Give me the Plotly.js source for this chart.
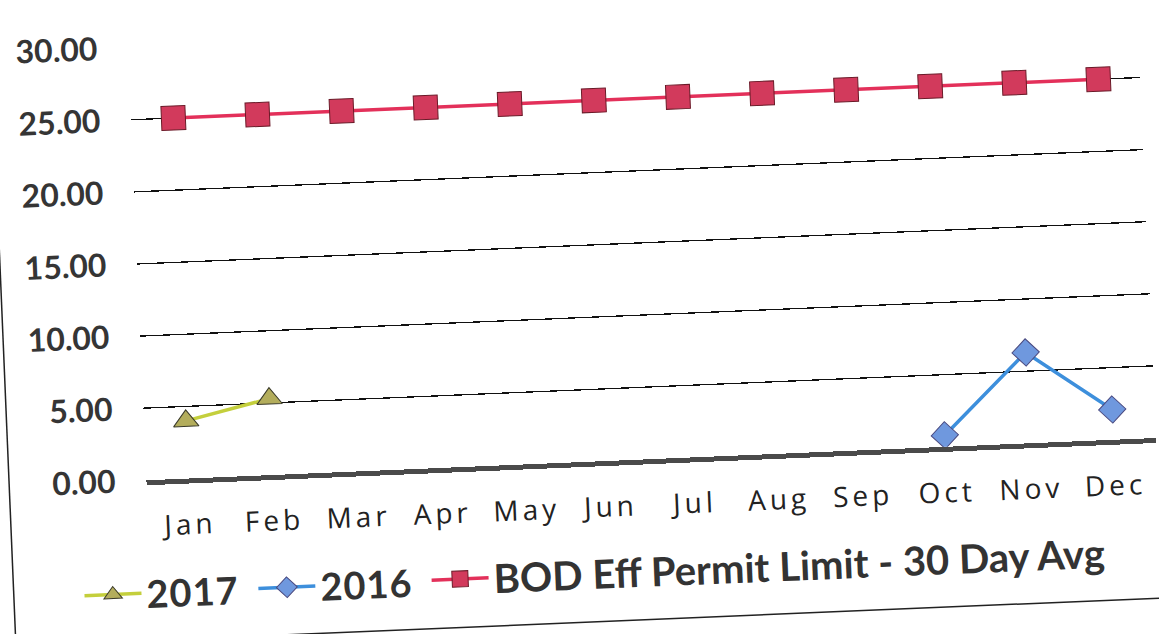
<!DOCTYPE html>
<html>
<head>
<meta charset="utf-8">
<script src="https://cdn.plot.ly/plotly-3.0.1.min.js"></script>
<style>
  html, body { margin: 0; padding: 0; background: #fff; overflow: hidden; }
  #chart { width: 1159px; height: 634px; transform: rotate(-2.4deg); transform-origin: 580px 317px; }
  #chart .xtick text { letter-spacing: 4px; }
  #chart .legendtext { letter-spacing: 1px; }
</style>
</head>
<body>
<div id="chart"></div>
<script>
const months = ["Jan","Feb","Mar","Apr","May","Jun","Jul","Aug","Sep","Oct","Nov","Dec"];
const series2017 = [4.0, 5.3, null, null, null, null, null, null, null, null, null, null];
const series2016 = [null, null, null, null, null, null, null, null, null, 0.8, 6.3, 2.1];
const permitLimit = [25, 25, 25, 25, 25, 25, 25, 25, 25, 25, 25, 25];
const yTicks = [0, 5, 10, 15, 20, 25, 30];
const yTickLabels = ["0.00", "5.00", "10.00", "15.00", "20.00", "25.00", "30.00"];

const legendFont = { family: "Lato, 'Open Sans', sans-serif", size: 38, color: "#333", weight: "bold" };
const legend2Font = { family: "Lato, 'Open Sans', sans-serif", size: 40, color: "#333", weight: "bold" };

const traces = [
  {
    name: "2017", x: months, y: series2017, type: "scatter", mode: "lines+markers", legend: "legend",
    line: { color: "#c4cf3c", width: 3.5 },
    marker: { symbol: "triangle-up", size: 22, color: "#b3ad5c", line: { color: "#3a3a2a", width: 1 } }
  },
  {
    name: "2016", x: months, y: series2016, type: "scatter", mode: "lines+markers", legend: "legend",
    line: { color: "#3d8fdc", width: 3.5 },
    marker: { symbol: "diamond", size: 21, color: "#6f98de", line: { color: "#4a4a80", width: 1 } }
  },
  {
    name: "BOD Eff Permit Limit - 30 Day Avg", x: months, y: permitLimit, type: "scatter", mode: "lines+markers", legend: "legend2",
    line: { color: "#e3305a", width: 3.5 },
    marker: { symbol: "square", size: 24, color: "#d23a5c", line: { color: "#6a1a28", width: 1 } }
  }
];

const layout = {
  width: 1159, height: 634,
  margin: { l: 140, r: 9, t: 29, b: 172 },
  paper_bgcolor: "rgba(0,0,0,0)", plot_bgcolor: "rgba(0,0,0,0)",
  showlegend: true,
  legend: {
    orientation: "h", x: -0.071, xanchor: "left", y: -0.261, yanchor: "middle",
    font: legendFont, itemwidth: 57,
    entrywidth: 102, entrywidthmode: "pixels", traceorder: "normal",
    bgcolor: "rgba(0,0,0,0)"
  },
  legend2: {
    orientation: "h", x: 0.273, xanchor: "left", y: -0.258, yanchor: "middle",
    font: legend2Font, itemwidth: 57,
    bgcolor: "rgba(0,0,0,0)"
  },
  xaxis: {
    type: "category", categoryorder: "array", categoryarray: months,
    range: [-0.5, 11.5], showgrid: false, zeroline: false,
    showline: true, linecolor: "#4a4a4a", linewidth: 5,
    ticks: "", ticklabelstandoff: 17,
    tickfont: { family: "'Open Sans', Lato, sans-serif", size: 28, color: "#222" }
  },
  yaxis: {
    range: [0, 30], tickvals: yTicks, ticktext: yTickLabels,
    showgrid: true, gridcolor: "#111", gridwidth: 1.3, zeroline: false, showline: false,
    ticks: "", ticklabelstandoff: 30,
    tickfont: { family: "Lato, 'Open Sans', sans-serif", size: 32, color: "#353535", weight: "bold" }
  },
  shapes: [
    { type: "line", xref: "paper", yref: "paper", x0: -0.14, x1: 1.2, y0: -0.37, y1: -0.37, line: { color: "#222", width: 1.5 } },
    { type: "line", xref: "paper", yref: "paper", x0: -0.136, x1: -0.136, y0: -0.37, y1: 1.3, line: { color: "#222", width: 1.5 } }
  ]
};

Plotly.newPlot("chart", traces, layout, { displayModeBar: false, staticPlot: true });
</script>
</body>
</html>
